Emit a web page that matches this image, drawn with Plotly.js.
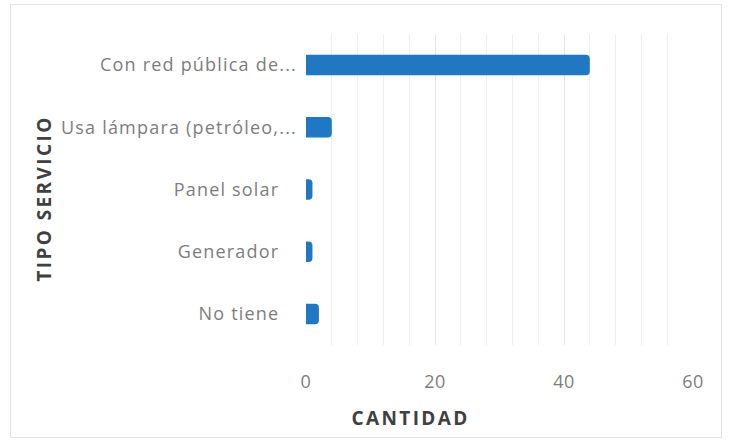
<!DOCTYPE html>
<html>
<head>
<meta charset="utf-8">
<script src="https://cdn.plot.ly/plotly-3.0.1.min.js"></script>
<style>
  html, body { margin: 0; padding: 0; background: #ffffff; }
  #frame { position: absolute; left: 10px; top: 4px; width: 712px; height: 434px; border: 1px solid #e4e4e4; box-sizing: border-box; }
  #chart { position: absolute; left: 0; top: 0; width: 729px; height: 444px; }
  #chart .ytick text { letter-spacing: 1.2px; }
  #chart .xtick text { letter-spacing: 0.5px; }
  #chart .annotation-text { letter-spacing: 2.4px; }
</style>
</head>
<body>
<div id="frame"></div>
<div id="chart"></div>
<script>
const categories = [
  "Con red pública de...",
  "Usa lámpara (petróleo,...",
  "Panel solar\u00a0\u00a0\u00a0",
  "Generador\u00a0\u00a0\u00a0",
  "No tiene\u00a0\u00a0\u00a0"
];
const values = [44, 4, 1, 1, 2];
const xTickValues = [0, 20, 40, 60];
const xTitle = "CANTIDAD";
const yTitle = "TIPO SERVICIO";

const labelFont = { family: "'Open Sans', sans-serif", size: 18, color: "#7d7d7d" };
const titleFont = { family: "'Open Sans', sans-serif", size: 19, color: "#404040", weight: 700 };

const trace = {
  type: "bar",
  orientation: "h",
  x: values,
  y: categories,
  width: 0.33,
  marker: { color: "#1f78c1", cornerradius: 4 },
  hoverinfo: "x+y"
};

const layout = {
  width: 729,
  height: 444,
  margin: { l: 306, r: 36, t: 34, b: 99 },
  paper_bgcolor: "rgba(0,0,0,0)",
  plot_bgcolor: "rgba(0,0,0,0)",
  showlegend: false,
  xaxis: {
    range: [0, 60],
    tickvals: xTickValues,
    ticktext: xTickValues.map(String),
    showgrid: true,
    gridcolor: "#e6e6e6",
    gridwidth: 1,
    minor: { dtick: 4, showgrid: true, gridcolor: "#efefef", gridwidth: 1 },
    zeroline: false,
    showline: false,
    ticks: "",
    ticklabelstandoff: 24,
    tickfont: labelFont
  },
  yaxis: {
    autorange: "reversed",
    showgrid: false,
    zeroline: false,
    showline: false,
    ticks: "",
    ticklabelstandoff: 8,
    tickfont: labelFont
  },
  annotations: [
    {
      text: xTitle,
      xref: "paper", yref: "paper",
      x: (410 - 306) / (729 - 306 - 36), y: -(418 - 345) / (345 - 34),
      xanchor: "center", yanchor: "middle",
      showarrow: false,
      font: titleFont
    },
    {
      text: yTitle,
      xref: "paper", yref: "paper",
      x: -(306 - 44) / (729 - 306 - 36), y: (345 - 199) / (345 - 34),
      xanchor: "center", yanchor: "middle",
      textangle: -90,
      showarrow: false,
      font: titleFont
    }
  ]
};

Plotly.newPlot("chart", [trace], layout, { displayModeBar: false, staticPlot: true });
</script>
</body>
</html>
